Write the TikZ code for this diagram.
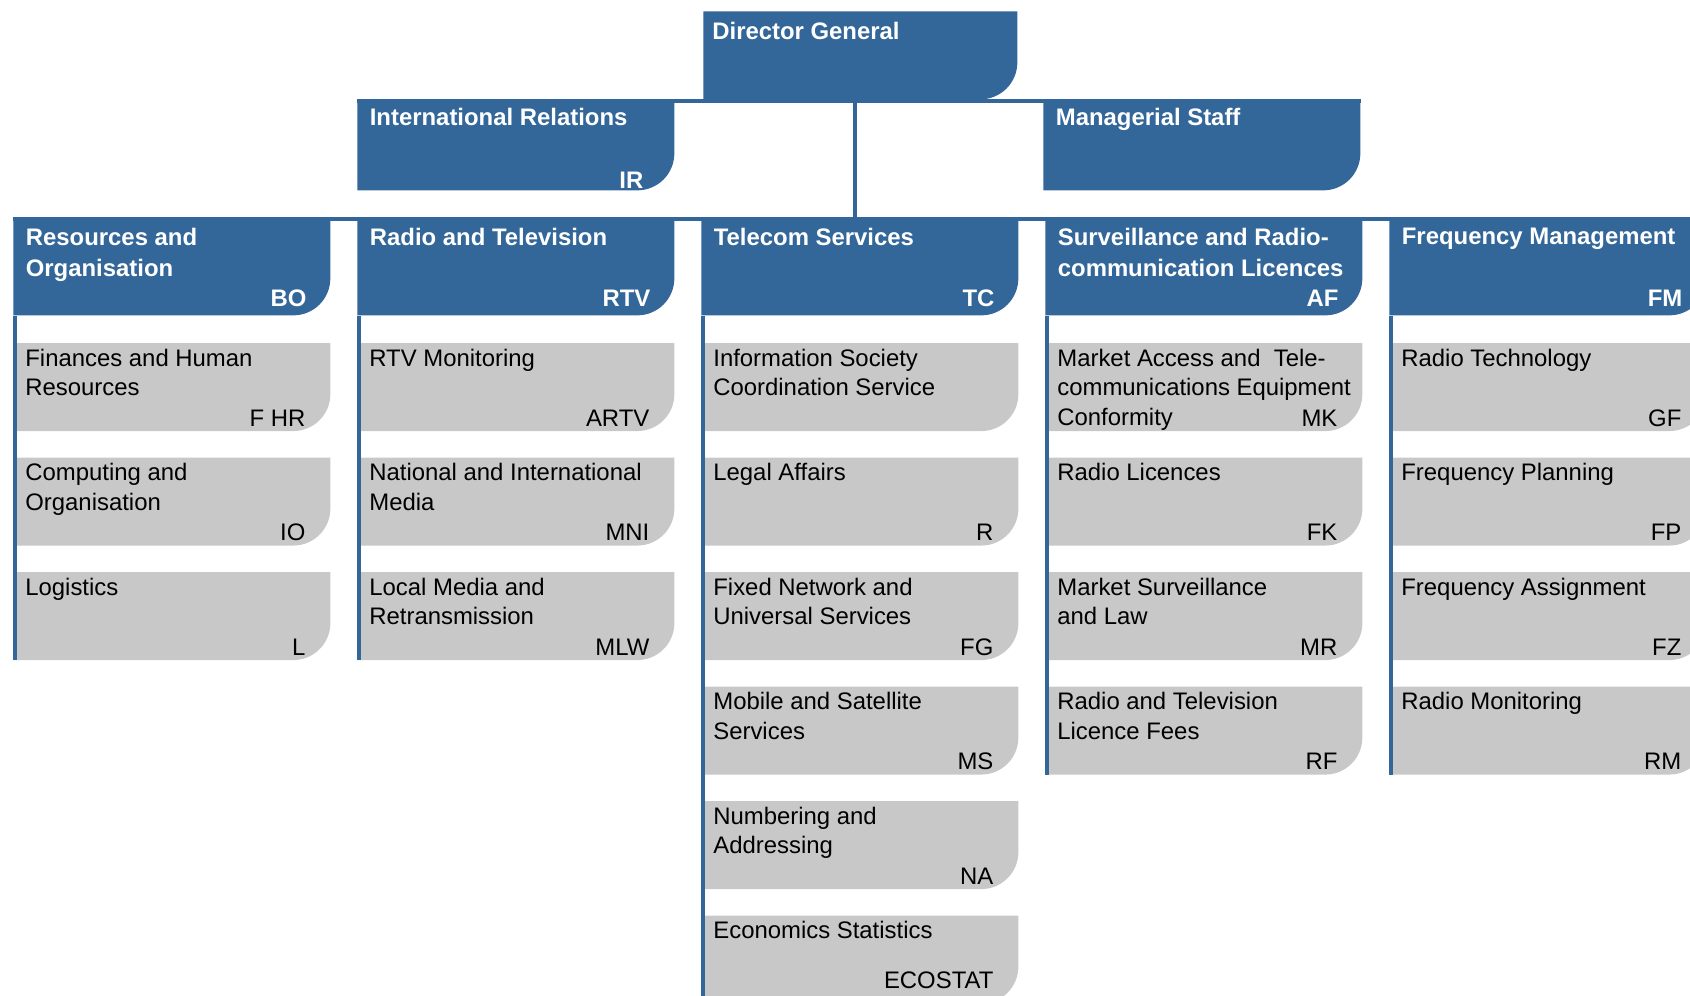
\documentclass[tikz,border=0pt]{standalone}
\usepackage{fontspec}
\setmainfont{Liberation Sans}
\usetikzlibrary{positioning}
\definecolor{orgblue}{RGB}{51,102,153}
\definecolor{orggrey}{RGB}{200,200,200}
\begin{document}
\begin{tikzpicture}[
 box/.style={anchor=north west, inner sep=0pt, minimum width=6.34cm,
  path picture={\fill[#1] (path picture bounding box.south west)
   |- (path picture bounding box.north east)
   -- ([yshift=0.74cm]path picture bounding box.south east)
   arc[start angle=0,end angle=-90,radius=0.74cm] -- cycle;}},
 head/.style={box=orgblue, minimum height=1.96cm},
 unit/.style={box=orggrey, minimum height=1.76cm},
 htitle/.style={anchor=north west, inner sep=0pt, align=left, text=white,
  font=\fontsize{13.6pt}{18pt}\selectfont\bfseries, xshift=0.25cm, yshift=-0.21cm},
 hcode/.style={anchor=base east, inner sep=0pt, text=white,
  font=\fontsize{13.6pt}{18pt}\selectfont\bfseries, xshift=-0.48cm, yshift=0.18cm},
 utitle/.style={anchor=north west, inner sep=0pt, align=left,
  font=\fontsize{13.6pt}{16.8pt}\selectfont, xshift=0.24cm, yshift=-0.12cm},
 ucode/.style={anchor=base east, inner sep=0pt,
  font=\fontsize{13.6pt}{16.8pt}\selectfont, xshift=-0.5cm, yshift=0.1cm},
 link/.style={orgblue, line width=0.08cm}]
 \useasboundingbox (0,0) rectangle (33.8,-19.92);
 \clip (0,0) rectangle (33.8,-19.92);

 % direction and staff
 \node[head, minimum width=6.28cm, minimum height=1.76cm,
  label={[htitle, xshift=-0.07cm]north west:Director General}] (dg) at (14.06,-0.22) {};
 \node[head, minimum height=1.82cm,
  label={[htitle, yshift=0.04cm]north west:International Relations},
  label={[hcode, xshift=-0.14cm, yshift=-0.14cm]south east:IR}] (ir) at (7.14,-1.98) {};
 \node[head, minimum height=1.82cm,
  label={[htitle, yshift=0.04cm]north west:Managerial Staff}] (ms) at (20.86,-1.98) {};

 % divisions
 \node[head, label={[htitle]north west:{Resources and\\Organisation}},
  label={[hcode]south east:BO}] (bo) at (0.26,-4.34) {};
 \node[head, label={[htitle]north west:Radio and Television},
  label={[hcode]south east:RTV}] (rtv) at (7.14,-4.34) {};
 \node[head, label={[htitle]north west:Telecom Services},
  label={[hcode]south east:TC}] (tc) at (14.02,-4.34) {};
 \node[head, label={[htitle]north west:{Surveillance and Radio-\\communication Licences}},
  label={[hcode]south east:AF}] (af) at (20.90,-4.34) {};
 \node[head, label={[htitle]north west:Frequency Management},
  label={[hcode]south east:FM}] (fm) at (27.78,-4.34) {};

 % sections of BO
 \node[unit, below=0.54cm of bo, label={[utitle]north west:{Finances and Human\\Resources}},
  label={[ucode]south east:F HR}] (bo-1) {};
 \node[unit, below=0.516cm of bo-1, label={[utitle]north west:{Computing and\\Organisation}},
  label={[ucode]south east:IO}] (bo-2) {};
 \node[unit, below=0.516cm of bo-2, label={[utitle]north west:Logistics},
  label={[ucode]south east:L}] (bo-3) {};

 % sections of RTV
 \node[unit, below=0.54cm of rtv, label={[utitle]north west:RTV Monitoring},
  label={[ucode]south east:ARTV}] (rtv-1) {};
 \node[unit, below=0.516cm of rtv-1, label={[utitle]north west:{National and International\\Media}},
  label={[ucode]south east:MNI}] (rtv-2) {};
 \node[unit, below=0.516cm of rtv-2, label={[utitle]north west:{Local Media and\\Retransmission}},
  label={[ucode]south east:MLW}] (rtv-3) {};

 % sections of TC
 \node[unit, below=0.54cm of tc, label={[utitle]north west:{Information Society\\Coordination Service}}] (tc-1) {};
 \node[unit, below=0.516cm of tc-1, label={[utitle]north west:Legal Affairs},
  label={[ucode]south east:R}] (tc-2) {};
 \node[unit, below=0.516cm of tc-2, label={[utitle]north west:{Fixed Network and\\Universal Services}},
  label={[ucode]south east:FG}] (tc-3) {};
 \node[unit, below=0.516cm of tc-3, label={[utitle]north west:{Mobile and Satellite\\Services}},
  label={[ucode]south east:MS}] (tc-4) {};
 \node[unit, below=0.516cm of tc-4, label={[utitle]north west:{Numbering and\\Addressing}},
  label={[ucode]south east:NA}] (tc-5) {};
 \node[unit, below=0.516cm of tc-5, label={[utitle]north west:Economics Statistics},
  label={[ucode, yshift=0.2cm]south east:ECOSTAT}] (tc-6) {};

 % sections of AF
 \node[unit, below=0.54cm of af,
  label={[utitle]north west:{Market Access and\ \ Tele-\\communications Equipment\\Conformity}},
  label={[ucode]south east:MK}] (af-1) {};
 \node[unit, below=0.516cm of af-1, label={[utitle]north west:Radio Licences},
  label={[ucode]south east:FK}] (af-2) {};
 \node[unit, below=0.516cm of af-2, label={[utitle]north west:{Market Surveillance\\and Law}},
  label={[ucode]south east:MR}] (af-3) {};
 \node[unit, below=0.516cm of af-3, label={[utitle]north west:{Radio and Television\\Licence Fees}},
  label={[ucode]south east:RF}] (af-4) {};

 % sections of FM
 \node[unit, below=0.54cm of fm, label={[utitle]north west:Radio Technology},
  label={[ucode]south east:GF}] (fm-1) {};
 \node[unit, below=0.516cm of fm-1, label={[utitle]north west:Frequency Planning},
  label={[ucode]south east:FP}] (fm-2) {};
 \node[unit, below=0.516cm of fm-2, label={[utitle]north west:Frequency Assignment},
  label={[ucode]south east:FZ}] (fm-3) {};
 \node[unit, below=0.516cm of fm-3, label={[utitle]north west:Radio Monitoring},
  label={[ucode]south east:RM}] (fm-4) {};

 % lines of the tree
 \coordinate (split) at (17.09,-4.38);
 \draw[link] ([yshift=-0.04cm]ir.north west) -- ([yshift=-0.04cm]ms.north east);
 \draw[link] (dg.south -| split) -- (split);
 \draw[link] ([yshift=-0.04cm]bo.north west) -- ([yshift=-0.04cm]fm.north east);
 \foreach \c/\n in {bo/3,rtv/3,tc/6,af/4,fm/4}
  \draw[link] ([xshift=0.04cm]\c.south west) -- ([xshift=0.04cm]\c-\n.south west);
\end{tikzpicture}
\end{document}
